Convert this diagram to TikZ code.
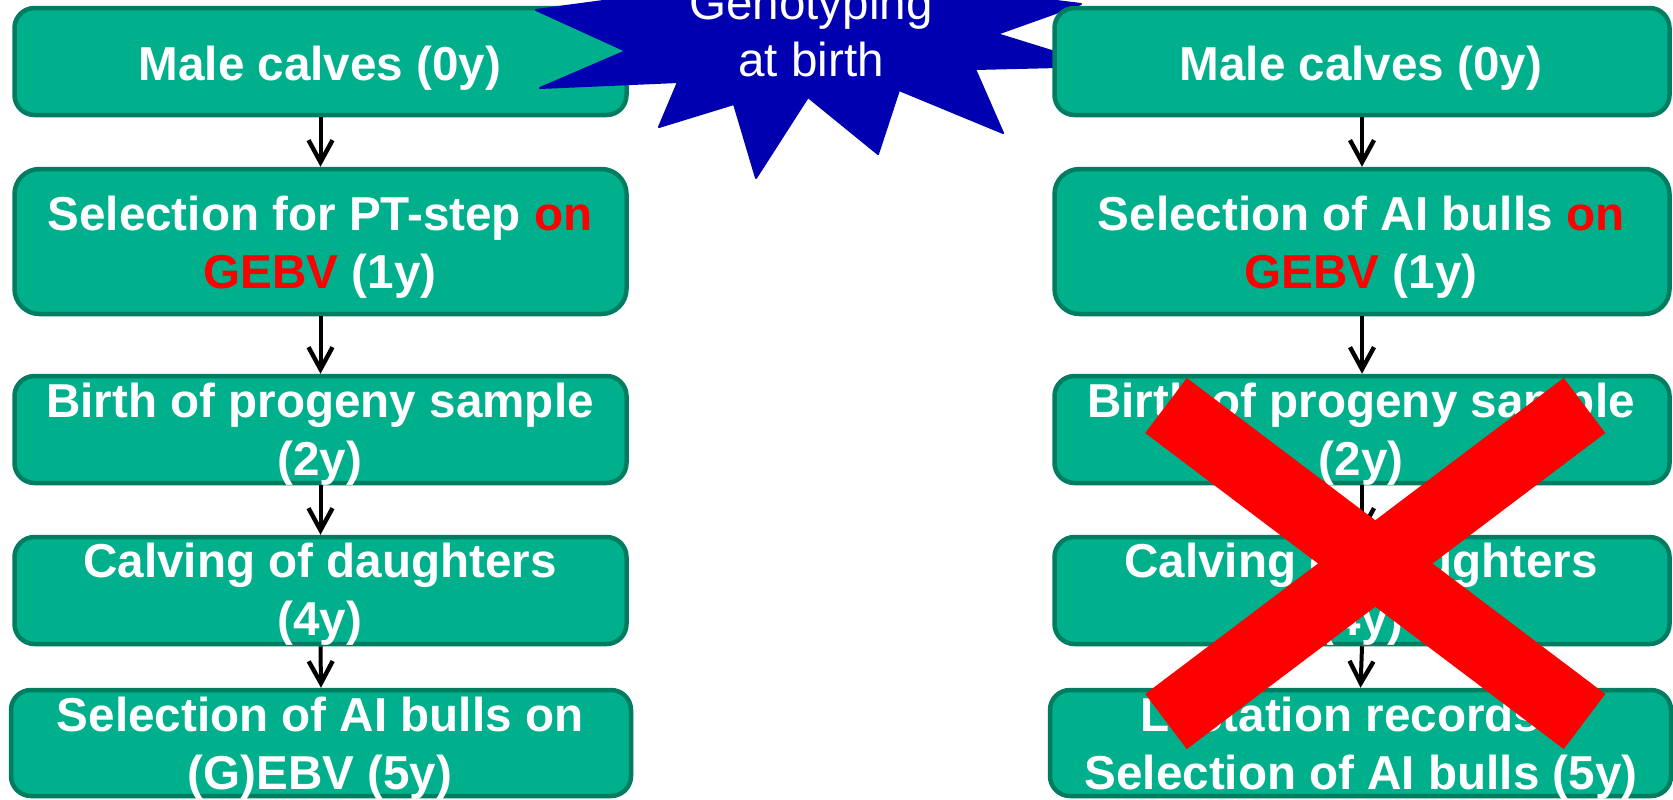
\documentclass[tikz,border=0pt]{standalone}
\usepackage{fontspec}
\setmainfont{Liberation Sans}
\usetikzlibrary{arrows.meta}
\definecolor{boxfill}{RGB}{0,176,140}
\definecolor{boxline}{RGB}{0,124,96}
\definecolor{burst}{RGB}{0,0,176}
\definecolor{hot}{RGB}{255,0,0}

\begin{document}
\begin{tikzpicture}[x=0.5pt,y=-0.5pt,
  stage/.style={draw=boxline, fill=boxfill, line width=2.25pt,
    rounded corners=10pt, inner sep=0pt,
    minimum width=306pt, minimum height=53.5pt},
  tall/.style={minimum height=72.5pt, rounded corners=12.5pt},
  % base anchor = baseline of the last line
  lbl/.style={anchor=base, align=center, text=white, inner sep=0pt,
    font=\fontsize{23.8}{28.75}\selectfont\bfseries},
  plain/.style={anchor=base, align=center, text=white, inner sep=0pt,
    font=\fontsize{23.8}{28.75}\selectfont},
  flow/.style={-{Straight Barb[length=11pt,width=12pt,line width=2.2pt]},
    line width=2pt, black},
  xbar/.style={hot, line width=34.5pt, line cap=butt},
]
\useasboundingbox (0,0) rectangle (1673,799);
\fill[white] (0,0) rectangle (1673,799);
\clip (0,0) rectangle (1673,799);

% conventional scheme (left column)
\node[stage] (L1) at (320.5,61.5) {};
\node[stage,tall] (L2) at (320.5,241.5) {};
\node[stage] (L3) at (320.5,429.5) {};
\node[stage] (L4) at (320.5,590.5) {};
\node[stage,minimum width=310pt,minimum height=53pt] (L5) at (321,743) {};

\node[lbl] (tL1) at (320,80) {Male calves (0y)};
\node[lbl] (tL2) at (320,288) {Selection for PT-step \textcolor{hot}{on}\\\textcolor{hot}{GEBV} (1y)};
\node[lbl] (tL3) at (320,475) {Birth of progeny sample\\(2y)};
\node[lbl] (tL4) at (320,635) {Calving of daughters\\(4y)};
\node[lbl] (tL5) at (320,789) {Selection of AI bulls on\\(G)EBV (5y)};

\draw[flow] (L1.south) -- (L2.north);
\draw[flow] (L2.south) -- (L3.north);
\draw[flow] (L3.south) -- (L4.north);
\draw[flow] (L4.south) -- (L5.north);

% explosion callout
\filldraw[burst, line width=1pt, line join=round]
  (536,10) -- (626,51) -- (540,88) -- (678,82) -- (659,127) -- (734,104)
  -- (756,178) -- (808,97) -- (878,154) -- (899,90) -- (1003,133)
  -- (975,69) -- (1100,66) -- (997,34) -- (1081,4) -- (950,-12)
  -- (820,-60) -- (700,-12) -- cycle;
\node[plain] (geno) at (811,76.7) {Genotyping\\at birth};

% genomic scheme (right column)
\node[stage,minimum width=307.5pt] (R1) at (1362,61.5) {};
\node[stage,tall,minimum width=307.5pt] (R2) at (1362,241.5) {};
\node[stage,minimum width=307.5pt] (R3) at (1362,429.5) {};
\node[stage,minimum width=307.5pt] (R4) at (1362,590.5) {};
\node[stage,minimum width=310.5pt,minimum height=53pt] (R5) at (1360.5,743) {};

\node[lbl] (tR1) at (1361,80) {Male calves (0y)};
\node[lbl] (tR2) at (1361,288) {Selection of AI bulls \textcolor{hot}{on}\\\textcolor{hot}{GEBV} (1y)};
\node[lbl] (tR3) at (1361,475) {Birth of progeny sample\\(2y)};
\node[lbl] (tR4) at (1361,635) {Calving of daughters\\(4y)};
\node[lbl] (tR5) at (1361,789) {Lactation records\hphantom{~+}\\Selection of AI bulls (5y)};

\draw[flow] (R1.south) -- (R2.north);
\draw[flow] (R2.south) -- (R3.north);
\draw[flow] (R3.south) -- (R4.north);
\draw[flow] (R4.south) -- (R5.north);

% crossing-out mark
\coordinate (xa) at (1166,405.5);
\coordinate (xb) at (1584.5,721.5);
\coordinate (xc) at (1584.5,405.5);
\coordinate (xd) at (1166,721.5);
\draw[xbar] (xa) -- (xb);
\draw[xbar] (xc) -- (xd);
\end{tikzpicture}
\end{document}
